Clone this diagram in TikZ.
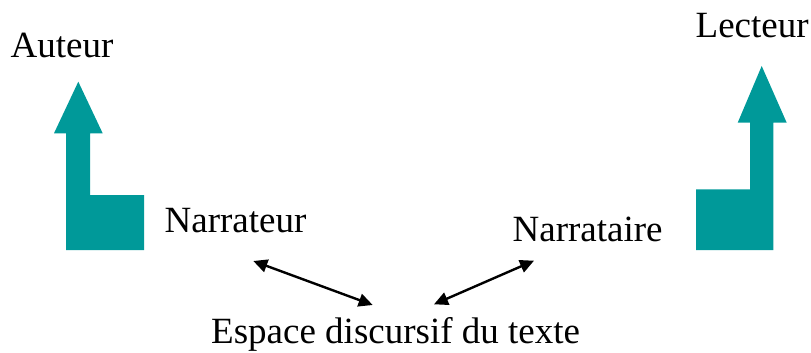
\documentclass[tikz,border=0pt]{standalone}
\usepackage{fontspec}
\setmainfont{Liberation Serif}
\usetikzlibrary{arrows.meta}
\definecolor{tealbox}{RGB}{0,153,153}
\begin{document}
\begin{tikzpicture}[x=1pt,y=-1pt,
  lbl/.style={anchor=base west,inner sep=0pt,font=\fontsize{37}{43}\selectfont},
  tealshape/.style={fill=tealbox,draw=none},
  dbl/.style={line width=2.4pt,{Triangle[length=14pt,width=13pt]}-{Triangle[length=14pt,width=13pt]}}]
\useasboundingbox (0,0) rectangle (811,353);
% teal L-arrows
\fill[tealshape] (66,250) -- (66,133.3) -- (54,133.3) -- (78.3,81.7) -- (102.7,133.3) -- (90,133.3) -- (90,195) -- (144,195) -- (144,250) -- cycle;
\fill[tealshape] (696,250) -- (696,189.3) -- (750,189.3) -- (750,122.7) -- (737.7,122.7) -- (761.7,66) -- (786.7,122.7) -- (773.3,122.7) -- (773.3,250) -- cycle;
% labels
\node[lbl] (auteur) at (10.5,57.7) {Auteur};
\node[lbl] (lecteur) at (695.5,37.7) {Lecteur};
\node[lbl] (narrateur) at (164.5,232.7) {Narrateur};
\node[lbl] (narrataire) at (512.5,241) {Narrataire};
\node[lbl] (espace) at (211,343.3) {Espace discursif du texte};
% connector ends
\coordinate (a1) at (253.3,261);
\coordinate (a2) at (372.7,305);
\coordinate (b1) at (434,304.3);
\coordinate (b2) at (534,260.7);
\draw[dbl] (a1) -- (a2);
\draw[dbl] (b1) -- (b2);
\end{tikzpicture}
\end{document}
